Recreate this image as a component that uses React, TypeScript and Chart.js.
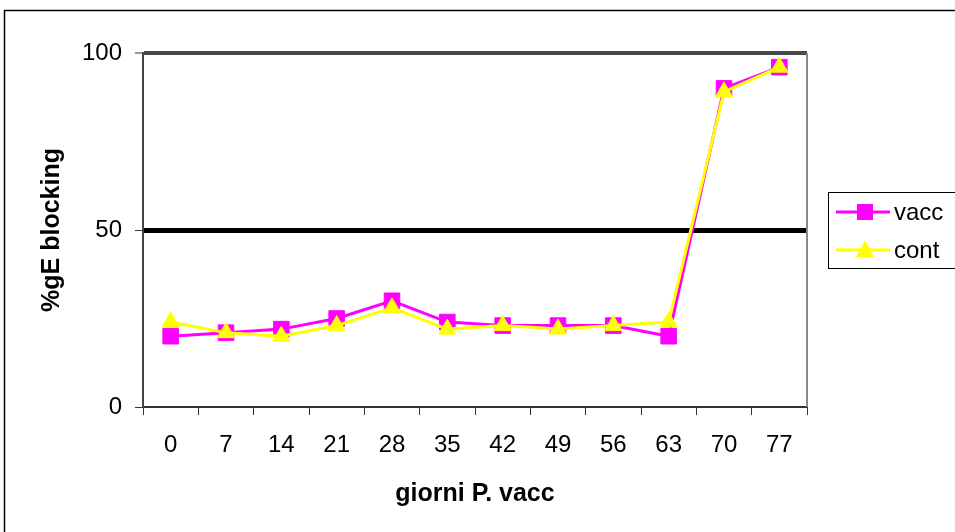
import { useEffect, useRef } from "react";
import { Chart, registerables } from "chart.js";

Chart.register(...registerables);

const categories = ["0", "7", "14", "21", "28", "35", "42", "49", "56", "63", "70", "77"];
const vacc = [20, 21, 22, 25, 30, 24, 23, 23, 23, 20, 90, 96];
const cont = [24, 21, 20, 23, 28, 22, 23, 22, 23, 24, 89, 96];
const yTicks = [0, 50, 100];
const threshold = 50;
const seriesNames = ["vacc", "cont"];
const xTitle = "giorni P. vacc";
const yTitle = "%gE blocking";

const FONT = "'Liberation Sans', Arial, sans-serif";

const framePlugin = {
  id: "frame",
  beforeDraw(chart: any) {
    const { ctx, width, height } = chart;
    ctx.save();
    ctx.fillStyle = "#fff";
    ctx.fillRect(0, 0, width, height);
    ctx.strokeStyle = "#000";
    ctx.lineWidth = 1.5;
    ctx.strokeRect(4.5, 10.5, width + 20, height + 20);
    ctx.restore();
  },
  beforeDatasetsDraw(chart: any) {
    const { ctx, chartArea } = chart;
    ctx.save();
    ctx.strokeStyle = "#8a8a8a";
    ctx.lineWidth = 2;
    ctx.beginPath();
    ctx.moveTo(chartArea.right, chartArea.top);
    ctx.lineTo(chartArea.right, chartArea.bottom);
    ctx.stroke();
    ctx.restore();
  },
  afterDraw(chart: any) {
    const { ctx } = chart;
    const x0 = 828, y0 = 192, w = 200, h = 76;
    ctx.save();
    ctx.strokeStyle = "#000";
    ctx.lineWidth = 1;
    ctx.strokeRect(x0 + 0.5, y0 + 0.5, w, h);
    chart.data.datasets.forEach((ds: any, i: number) => {
      const cy = y0 + 20 + i * 38;
      ctx.strokeStyle = ds.borderColor;
      ctx.lineWidth = 3;
      ctx.beginPath();
      ctx.moveTo(836, cy);
      ctx.lineTo(890, cy);
      ctx.stroke();
      ctx.fillStyle = ds.backgroundColor;
      ctx.beginPath();
      if (ds.pointStyle === "rect") {
        ctx.rect(857, cy - 8, 16, 16);
      } else {
        ctx.moveTo(865, cy - 10);
        ctx.lineTo(874, cy + 7);
        ctx.lineTo(856, cy + 7);
        ctx.closePath();
      }
      ctx.fill();
      ctx.fillStyle = "#000";
      ctx.font = `24px ${FONT}`;
      ctx.textBaseline = "middle";
      ctx.textAlign = "left";
      ctx.fillText(ds.label, 894, cy + 1);
    });
    ctx.restore();
  },
};

export default function App() {
  const ref = useRef<HTMLCanvasElement>(null);
  useEffect(() => {
    if (!ref.current) return;
    const chart = new Chart(ref.current, {
      type: "line",
      data: {
        labels: categories,
        datasets: [
          {
            label: seriesNames[0],
            data: vacc,
            borderColor: "#ff00ff",
            backgroundColor: "#ff00ff",
            borderWidth: 3,
            pointStyle: "rect",
            pointRadius: 11,
            pointBorderWidth: 1,
            tension: 0,
            order: 1,
          },
          {
            label: seriesNames[1],
            data: cont,
            borderColor: "#ffff00",
            backgroundColor: "#ffff00",
            borderWidth: 3,
            pointStyle: "triangle",
            pointRadius: 10,
            pointBorderWidth: 1,
            tension: 0,
            order: 0,
          },
        ],
      },
      options: {
        responsive: false,
        animation: false,
        devicePixelRatio: 1,
        layout: { padding: { top: 53, right: 148, left: 0, bottom: 0 } },
        plugins: { legend: { display: false }, tooltip: { enabled: false } },
        scales: {
          x: {
            type: "category",
            offset: true,
            grid: {
              offset: true,
              drawOnChartArea: false,
              drawTicks: true,
              tickLength: 8,
              color: "#333",
              lineWidth: 1,
            },
            border: { color: "#333", width: 2 },
            ticks: {
              font: { family: FONT, size: 24 },
              color: "#000",
              padding: 16,
              maxRotation: 0,
              autoSkip: false,
            },
            title: {
              display: true,
              text: xTitle,
              color: "#000",
              font: { family: FONT, size: 25, weight: "bold" },
              padding: { top: 0, bottom: 23 },
            },
            afterFit: (s: any) => {
              s.height = 125;
            },
          },
          y: {
            min: 0,
            max: 100,
            afterBuildTicks: (s: any) => {
              s.ticks = yTicks.map((v) => ({ value: v }));
            },
            grid: {
              color: (c: any) =>
                c.tick && c.tick.value === threshold ? "#000" : c.tick && c.tick.value === 100 ? "#4a4a4a" : "rgba(0,0,0,0)",
              lineWidth: (c: any) =>
                c.tick && c.tick.value === threshold ? 5 : c.tick && c.tick.value === 100 ? 4 : 1,
              tickColor: "#333",
              tickWidth: 1,
              tickLength: 8,
            },
            border: { color: "#444", width: 2 },
            ticks: {
              font: { family: FONT, size: 24 },
              color: "#000",
              padding: 13,
            },
            title: {
              display: true,
              text: yTitle,
              color: "#000",
              font: { family: FONT, size: 25, weight: "bold" },
              padding: { top: 37, bottom: 0 },
            },
            afterFit: (s: any) => {
              s.width = 143;
            },
          },
        },
      },
      plugins: [framePlugin],
    });
    return () => chart.destroy();
  }, []);
  return (
    <div style={{ position: "fixed", left: 0, top: 0, width: 955, height: 532, background: "#fff" }}>
      <canvas ref={ref} width={955} height={532} style={{ display: "block" }} />
    </div>
  );
}
